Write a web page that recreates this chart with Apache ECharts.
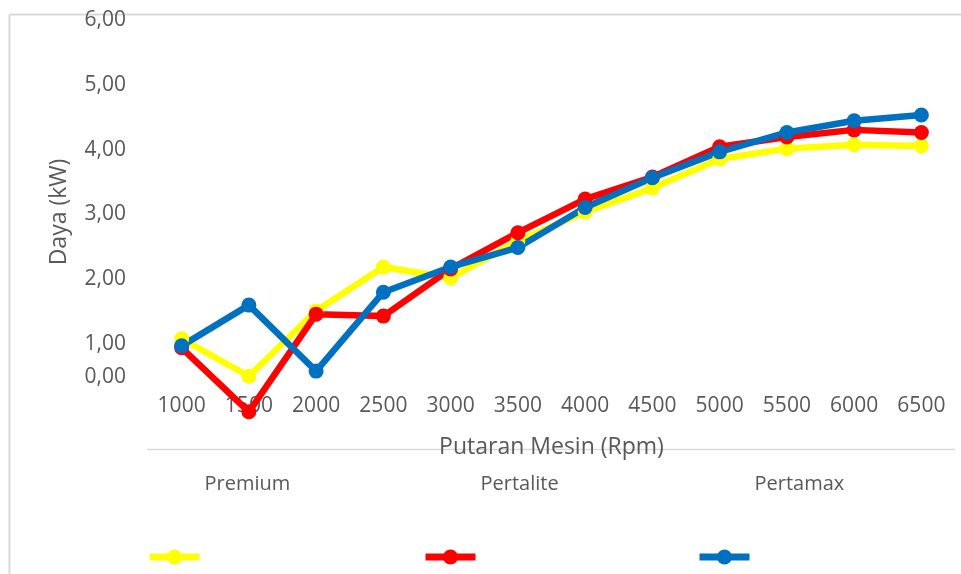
<!DOCTYPE html>
<html>
<head>
<meta charset="utf-8">
<script src="https://cdn.jsdelivr.net/npm/echarts@6/dist/echarts.min.js"></script>
<style>
  html, body { margin: 0; padding: 0; background: #fff; }
  #chart { width: 961px; height: 574px; }
</style>
</head>
<body>
<div id="chart"></div>
<script>
const rpm = ['1000', '1500', '2000', '2500', '3000', '3500', '4000', '4500', '5000', '5500', '6000', '6500'];
const premium = [1.04, 0.46, 1.47, 2.15, 1.98, 2.55, 3.00, 3.37, 3.82, 3.98, 4.04, 4.02];
const pertalite = [0.90, -0.09, 1.42, 1.39, 2.12, 2.68, 3.20, 3.54, 4.01, 4.16, 4.27, 4.23];
const pertamax = [0.93, 1.56, 0.54, 1.76, 2.15, 2.45, 3.07, 3.53, 3.93, 4.23, 4.41, 4.50];
const seriesNames = ['Premium', 'Pertalite', 'Pertamax'];
const seriesColors = ['#FFFF00', '#FF0000', '#0070C0'];
const legendLeft = [146, 422, 696];

const FONT = '"Open Sans", sans-serif';
const GREY = '#595959';

function makeSeries(name, data, color) {
    return {
        name: name,
        type: 'line',
        data: data,
        clip: false,
        symbol: 'circle',
        symbolSize: 15,
        lineStyle: { width: 6.5, color: color },
        itemStyle: { color: color },
        emphasis: { disabled: true }
    };
}

// one legend per series, the name sits raised above its marker
function makeLegend(name, left) {
    return {
        data: [name],
        left: left,
        top: 474,
        itemWidth: 50,
        itemHeight: 19,
        padding: 0,
        selectedMode: false,
        lineStyle: { width: 7 },
        formatter: function (n) { return '{t|' + n + '}'; },
        textStyle: {
            rich: {
                t: { fontFamily: FONT, fontSize: 20, color: GREY, padding: [0, 0, 146, 0] }
            }
        }
    };
}

let chart = echarts.init(document.getElementById('chart'));
let option = {
    animation: false,
    textStyle: { fontFamily: FONT },
    grid: { left: 148, right: 6, top: 18, bottom: 168 },
    graphic: [
        // chart area border (left and top)
        { type: 'line', shape: { x1: 9.5, y1: 14.5, x2: 961, y2: 14.5 }, style: { stroke: '#d9d9d9', lineWidth: 2 } },
        { type: 'line', shape: { x1: 9.5, y1: 14.5, x2: 9.5, y2: 574 }, style: { stroke: '#d9d9d9', lineWidth: 2 } },
        // table rule under the axis
        { type: 'line', shape: { x1: 147, y1: 449.5, x2: 955, y2: 449.5 }, style: { stroke: '#d9d9d9', lineWidth: 1.5 }, z: 0 }
    ],
    legend: seriesNames.map((n, i) => makeLegend(n, legendLeft[i])),
    xAxis: {
        type: 'category',
        data: rpm,
        name: 'Putaran Mesin (Rpm)',
        nameLocation: 'middle',
        nameGap: 30,
        nameTextStyle: { fontSize: 23, color: GREY, fontFamily: FONT },
        axisLine: { show: false },
        axisTick: { show: false },
        axisLabel: { fontSize: 21, color: GREY, margin: -10, fontFamily: FONT }
    },
    yAxis: {
        type: 'value',
        min: 0,
        max: 6,
        interval: 1,
        name: 'Daya (kW)',
        nameLocation: 'middle',
        nameGap: 77,
        nameTextStyle: { fontSize: 23, color: GREY, fontFamily: FONT },
        splitLine: { show: false },
        axisLine: { show: false },
        axisTick: { show: false },
        axisLabel: {
            fontSize: 21,
            color: GREY,
            margin: 22,
            fontFamily: FONT,
            formatter: function (v) {
                const s = v.toFixed(2).replace('.', ',');
                return v === 0 ? '{z|' + s + '}' : '{n|' + s + '}';
            },
            rich: {
                n: { fontSize: 21, color: GREY, fontFamily: FONT, padding: [5, 0, 0, 0] },
                z: { fontSize: 21, color: GREY, fontFamily: FONT, padding: [0, 0, 58, 0] }
            }
        }
    },
    series: [
        makeSeries(seriesNames[0], premium, seriesColors[0]),
        makeSeries(seriesNames[1], pertalite, seriesColors[1]),
        makeSeries(seriesNames[2], pertamax, seriesColors[2])
    ]
};
chart.setOption(option);
</script>
</body>
</html>
